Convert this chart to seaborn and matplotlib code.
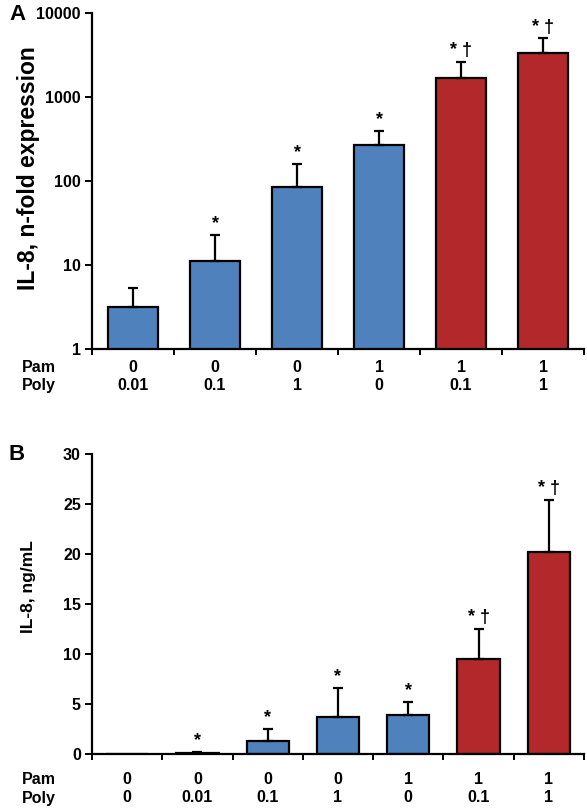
import numpy as np
import pandas as pd
import matplotlib
matplotlib.use('Agg')
import matplotlib.pyplot as plt
import matplotlib.ticker as mticker
import matplotlib.transforms as mtransforms
import seaborn as sns

# panel A: IL-8 mRNA, n-fold expression (log scale)
a_pam = ['0', '0', '0', '1', '1', '1']
a_poly = ['0.01', '0.1', '1', '0', '0.1', '1']
a_mean = [3.2, 11.2, 85, 265, 1700, 3350]
a_err_top = [5.3, 22.8, 160, 390, 2600, 5000]
a_marks = ['', '*', '*', '*', '* †', '* †']
a_group = ['single', 'single', 'single', 'single', 'combo', 'combo']

# panel B: IL-8 protein, ng/mL
b_pam = ['0', '0', '0', '0', '1', '1', '1']
b_poly = ['0', '0.01', '0.1', '1', '0', '0.1', '1']
b_mean = [0.0, 0.12, 1.3, 3.7, 3.9, 9.5, 20.2]
b_err_top = [0.0, 0.2, 2.5, 6.6, 5.2, 12.5, 25.4]
b_marks = ['', '*', '*', '*', '*', '* †', '* †']
b_group = ['single', 'single', 'single', 'single', 'single', 'combo', 'combo']

group_colors = {'single': '#4F81BD', 'combo': '#B3282A'}

sns.set_style('white')
plt.rcParams['font.family'] = ['Liberation Sans', 'DejaVu Sans']
plt.rcParams['font.weight'] = 'bold'
for k in ['text.color', 'axes.labelcolor', 'xtick.color', 'ytick.color', 'axes.edgecolor']:
    plt.rcParams[k] = 'black'

W, H = 587, 809
fig = plt.figure(figsize=(W / 100, H / 100), dpi=100)


def rect(left, top, right, bottom):
    return [left / W, 1 - bottom / H, (right - left) / W, (bottom - top) / H]


def draw_panel(ax, pam, poly, mean, err_top, marks, groups, log, row_y):
    n = len(mean)
    df = pd.DataFrame({'cond': [str(i) for i in range(n)], 'value': mean})
    palette = [group_colors[g] for g in groups]
    sns.barplot(data=df, x='cond', y='value', hue='cond', palette=palette,
                legend=False, width=0.6, saturation=1, errorbar=None,
                edgecolor='black', linewidth=1.6, ax=ax)
    if log:
        ax.set_yscale('log')

    mean = np.array(mean)
    err_top = np.array(err_top)
    x = np.arange(n)
    up = err_top - mean
    m = up > 0
    ax.errorbar(x[m], mean[m], yerr=[np.zeros(m.sum()), up[m]], fmt='none',
                ecolor='black', elinewidth=1.6, capsize=3.5, capthick=1.6, zorder=1)

    for i, mk in enumerate(marks):
        if mk:
            ax.annotate(mk, (i, err_top[i]), xytext=(0, 2), textcoords='offset points',
                        ha='center', va='bottom', fontsize=13, fontweight='bold')

    ax.set_xlim(-0.5, n - 0.5)
    ax.set_xticks(np.arange(-0.5, n, 1.0))
    ax.set_xticklabels([])
    ax.set_xlabel('')
    ax.set_ylabel('')
    sns.despine(ax=ax)
    for s in ['left', 'bottom']:
        ax.spines[s].set_linewidth(1.6)
    ax.tick_params(axis='x', direction='out', length=4, width=1.4, bottom=True)
    ax.tick_params(axis='y', direction='out', length=5, width=1.4, left=True,
                   labelsize=11.5, pad=3)

    # Pam / Poly rows under the axis
    tr = mtransforms.blended_transform_factory(ax.transData, fig.transFigure)
    for row, vals, y in [('Pam', pam, row_y[0]), ('Poly', poly, row_y[1])]:
        fig.text(22 / W, 1 - y / H, row, ha='left', va='center', fontsize=11.5, fontweight='bold')
        for i, v in enumerate(vals):
            ax.text(i, 1 - y / H, v, transform=tr, ha='center', va='center',
                    fontsize=11.5, fontweight='bold')


axA = fig.add_axes(rect(92, 13, 584, 349))
draw_panel(axA, a_pam, a_poly, a_mean, a_err_top, a_marks, a_group, True, (367, 385))
axA.set_ylim(1, 10000)
axA.yaxis.set_major_locator(mticker.FixedLocator([1, 10, 100, 1000, 10000]))
axA.yaxis.set_minor_locator(mticker.NullLocator())
axA.yaxis.set_major_formatter(mticker.FuncFormatter(lambda v, p: f'{v:g}'))

axB = fig.add_axes(rect(92, 454, 584, 754))
draw_panel(axB, b_pam, b_poly, b_mean, b_err_top, b_marks, b_group, False, (779, 798))
axB.set_ylim(0, 30)
axB.set_yticks([0, 5, 10, 15, 20, 25, 30])

fig.text(29 / W, 1 - 168 / H, 'IL-8, n-fold expression', rotation=90, ha='center', va='center',
         fontsize=16.5, fontweight='bold')
fig.text(29 / W, 1 - 587 / H, 'IL-8, ng/mL', rotation=90, ha='center', va='center',
         fontsize=12.5, fontweight='bold')
fig.text(17 / W, 1 - 14 / H, 'A', ha='center', va='center', fontsize=16, fontweight='bold')
fig.text(17 / W, 1 - 454 / H, 'B', ha='center', va='center', fontsize=16, fontweight='bold')

fig.savefig('out.png', dpi=100)
